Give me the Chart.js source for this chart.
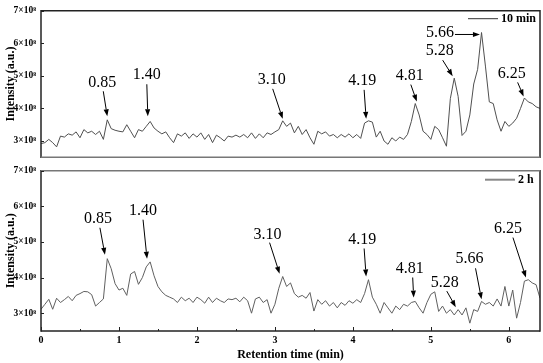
<!DOCTYPE html>
<html>
<head>
<meta charset="utf-8">
<script src="https://cdn.jsdelivr.net/npm/chart.js@4.4.1/dist/chart.umd.min.js"></script>
<style>
  html, body { margin: 0; padding: 0; background: #fff; }
  #wrap { position: relative; width: 543px; height: 363px; }
  #top { position: absolute; left: 0; top: 0; }
  #bottom { position: absolute; left: 0; top: 160px; }
</style>
</head>
<body>
<div id="wrap">
  <canvas id="top" width="543" height="168"></canvas>
  <canvas id="bottom" width="543" height="203"></canvas>
</div>
<script>
const SERIF = "'Liberation Serif', 'Times New Roman', serif";

// samples every 0.05 min, from 0 to 6.40 min, intensity in units of 1e8
const retentionStep = 0.05;

const intensity10min = [
  2.92, 2.95, 3.05, 2.95, 2.82, 3.15, 3.12, 3.22, 3.18, 3.28,
  3.10, 3.35, 3.25, 3.30, 3.20, 3.30, 3.05, 3.65, 3.38, 3.33,
  3.30, 3.28, 3.50, 3.30, 3.10, 3.35, 3.30, 3.45, 3.60, 3.40,
  3.30, 3.22, 3.28, 3.10, 2.95, 3.22, 3.15, 3.25, 3.08, 3.22,
  3.12, 3.25, 3.05, 3.20, 2.95, 3.18, 3.10, 3.00, 3.15, 3.12,
  3.18, 3.12, 3.20, 3.10, 3.25, 3.08, 3.22, 3.10, 3.25, 3.20,
  3.28, 3.35, 3.62, 3.45, 3.55, 3.25, 3.45, 3.20, 3.35, 3.10,
  2.90, 3.30, 3.22, 3.28, 3.15, 3.20, 3.10, 3.20, 3.12, 3.22,
  3.10, 3.20, 3.08, 3.55, 3.62, 3.58, 3.12, 3.30, 3.00, 2.90,
  3.10, 3.00, 3.12, 3.05, 3.20, 3.60, 4.15, 3.80, 3.30, 3.20,
  3.05, 3.45, 3.35, 3.10, 2.84, 4.30, 4.93, 4.37, 3.17, 3.30,
  3.80, 4.75, 5.20, 6.33, 5.30, 4.20, 4.15, 3.65, 3.30, 3.60,
  3.45, 3.55, 3.70, 4.00, 4.32, 4.20, 4.15, 4.05, 4.00
];

const intensity2h = [
  3.11, 3.25, 3.39, 3.11, 3.42, 3.30, 3.38, 3.47, 3.35, 3.50,
  3.55, 3.61, 3.60, 3.52, 3.20, 3.30, 3.40, 4.53, 4.25, 3.83,
  3.65, 3.70, 3.50, 4.10, 4.17, 3.81, 4.00, 4.30, 4.44, 4.05,
  3.75, 3.60, 3.50, 3.45, 3.40, 3.30, 3.45, 3.35, 3.42, 3.30,
  3.45, 3.38, 3.28, 3.45, 3.30, 3.42, 3.35, 3.30, 3.40, 3.38,
  3.42, 3.32, 3.45, 3.35, 3.00, 3.40, 3.45, 3.30, 3.38, 3.00,
  3.25, 3.70, 4.03, 3.75, 3.85, 3.55, 3.45, 3.50, 3.42, 3.58,
  3.06, 3.38, 3.25, 3.35, 3.20, 3.30, 3.15, 3.30, 3.22, 3.35,
  3.28, 3.38, 3.30, 3.55, 3.94, 3.45, 3.25, 3.00, 3.30, 3.15,
  3.00, 3.20, 3.10, 3.25, 3.20, 3.30, 3.33, 3.15, 3.00, 3.30,
  3.53, 3.60, 3.05, 3.20, 3.00, 3.10, 2.95, 3.10, 2.95, 3.15,
  2.72, 3.10, 3.05, 3.33, 3.25, 3.30, 3.20, 3.40, 3.20, 3.75,
  3.20, 3.65, 2.86, 3.30, 3.90, 3.94, 3.85, 3.80, 3.42
];

const xTicks = [0, 1, 2, 3, 4, 5, 6];
const xMinorTicks = [0.5, 1.5, 2.5, 3.5, 4.5, 5.5];
const yTicks = [3, 4, 5, 6, 7];

const peakLabels = ['0.85', '1.40', '3.10', '4.19', '4.81', '5.28', '5.66', '6.25'];
// where each arrow points, in data units
const tipTime10min = [0.85, 1.37, 3.10, 4.17, 4.82, 5.28, 5.63, 6.19];
const tipValue10min = [3.76, 3.76, 3.68, 3.68, 4.21, 4.99, 6.27, 4.37];
const tipTime2h = [0.82, 1.36, 3.06, 4.17, 4.78, 5.32, 5.65, 6.22];
const tipValue2h = [4.64, 4.53, 4.11, 4.03, 3.44, 3.17, 3.39, 4.00];

// label / arrow-tail placement relative to the tip, px
const labelOffset10min = [[-5,-33],[-1,-41],[-11,-39],[-4,-38],[-7,-26],[-13,-25],[-40,-2],[-12,-23]];
const tailOffset10min = [[-4,-25],[-1,-32],[-10,-30],[-2,-29],[-6,-17],[-10,-16],[-25,0],[-6,-14]];
const labelOffset2h = [[-7,-36],[-4,-48],[-12,-39],[-4,-37],[-4,-29],[-11,-24],[-12,-40],[-18,-49]];
const tailOffset2h = [[-5,-27],[-4,-39],[-10,-31],[-2,-28],[-1,-20],[-9,-16],[-6,-31],[-13,-40]];

function seg(ctx, x1, y1, x2, y2) {
  ctx.beginPath();
  ctx.moveTo(x1, y1);
  ctx.lineTo(x2, y2);
  ctx.stroke();
}

function arrow(ctx, x1, y1, x2, y2) {
  const ang = Math.atan2(y2 - y1, x2 - x1);
  const len = 7, half = 2.6;
  const bx = x2 - len * Math.cos(ang), by = y2 - len * Math.sin(ang);
  seg(ctx, x1, y1, bx, by);
  ctx.beginPath();
  ctx.moveTo(x2, y2);
  ctx.lineTo(bx + half * Math.sin(ang), by - half * Math.cos(ang));
  ctx.lineTo(bx - half * Math.sin(ang), by + half * Math.cos(ang));
  ctx.closePath();
  ctx.fill();
}

function makeDecor(cfg) {
  return {
    id: 'decor',
    afterDraw(chart) {
      const {ctx, chartArea: a, scales: {x, y}} = chart;
      ctx.save();

      // frame
      ctx.strokeStyle = '#222';
      ctx.lineWidth = 1.5;
      seg(ctx, a.left, a.top - 0.75, a.left, a.bottom + 0.75);
      seg(ctx, a.right, a.top - 0.75, a.right, a.bottom + 0.75);
      ctx.strokeStyle = cfg.topEdge;
      seg(ctx, a.left, a.top, a.right, a.top);
      ctx.strokeStyle = cfg.bottomEdge;
      seg(ctx, a.left, a.bottom, a.right, a.bottom);

      // inward ticks
      ctx.strokeStyle = '#222';
      ctx.lineWidth = 1;
      yTicks.forEach(v => {
        const py = Math.round(y.getPixelForValue(v)) + 0.5;
        seg(ctx, a.left, py, a.left + 3, py);
      });
      if (cfg.xTicks) {
        xTicks.forEach(v => {
          const px = Math.round(x.getPixelForValue(v)) + 0.5;
          seg(ctx, px, a.bottom, px, a.bottom - 4);
        });
        xMinorTicks.forEach(v => {
          const px = Math.round(x.getPixelForValue(v)) + 0.5;
          seg(ctx, px, a.bottom, px, a.bottom - 2);
        });
      }

      // peak annotations
      ctx.fillStyle = '#000';
      ctx.strokeStyle = '#000';
      ctx.lineWidth = 1;
      ctx.font = '16px ' + SERIF;
      ctx.textAlign = 'center';
      ctx.textBaseline = 'middle';
      peakLabels.forEach((label, i) => {
        const tx = x.getPixelForValue(cfg.tipTime[i]);
        const ty = y.getPixelForValue(cfg.tipValue[i]);
        ctx.fillText(label, tx + cfg.labelOff[i][0], ty + cfg.labelOff[i][1]);
        arrow(ctx, tx + cfg.tailOff[i][0], ty + cfg.tailOff[i][1], tx, ty);
      });

      // legend
      ctx.strokeStyle = cfg.color;
      ctx.lineWidth = cfg.legendWidth;
      const ly = a.top + cfg.legendDy;
      seg(ctx, a.right - cfg.legendFrom, ly, a.right - cfg.legendTo, ly);
      ctx.font = 'bold 12px ' + SERIF;
      ctx.textAlign = 'left';
      ctx.fillText(cfg.legend, a.right - cfg.legendTo + 3, ly);

      ctx.restore();
    }
  };
}

function yAxis() {
  return {
    type: 'linear',
    min: 2.5,
    max: 7,
    grid: { display: false, drawTicks: false },
    border: { display: false },
    afterBuildTicks: s => { s.ticks = yTicks.map(v => ({ value: v })); },
    ticks: {
      padding: 5,
      color: '#000',
      font: { family: SERIF, size: 9.5, weight: 'bold' },
      callback: v => v + '×10⁸'
    },
    title: {
      display: true,
      text: 'Intensity (a.u.)',
      color: '#000',
      font: { family: SERIF, size: 12, weight: 'bold' },
      padding: { top: 4, bottom: 0 }
    },
    afterFit: s => { s.width = 41; }
  };
}

function xAxis(show) {
  const axis = {
    type: 'linear',
    display: show,
    min: 0,
    max: 6.4,
    grid: { display: false, drawTicks: false },
    border: { display: false },
    afterBuildTicks: s => { s.ticks = xTicks.map(v => ({ value: v })); },
    ticks: {
      padding: 3,
      maxRotation: 0,
      color: '#000',
      font: { family: SERIF, size: 10, weight: 'bold' }
    },
    title: {
      display: show,
      text: 'Retention time (min)',
      color: '#000',
      font: { family: SERIF, size: 12, weight: 'bold' },
      padding: { top: 0, bottom: 1 }
    }
  };
  if (show) axis.afterFit = s => { s.height = 32; };
  return axis;
}

function makeChart(canvasId, values, color, showX, decor) {
  return new Chart(document.getElementById(canvasId), {
    type: 'line',
    data: {
      datasets: [{
        data: values.map((v, i) => ({ x: +(i * retentionStep).toFixed(2), y: v })),
        borderColor: color,
        borderWidth: 1,
        pointRadius: 0,
        tension: 0,
        fill: false
      }]
    },
    options: {
      responsive: false,
      animation: false,
      devicePixelRatio: 1,
      layout: {
        padding: showX ? { top: 8, right: 3, left: 0, bottom: 0 } : { top: 7, right: 3, left: 0, bottom: 1 }
      },
      plugins: { legend: { display: false }, tooltip: { enabled: false } },
      scales: { x: xAxis(showX), y: yAxis() }
    },
    plugins: [decor]
  });
}

makeChart('top', intensity10min, '#505050', false, makeDecor({
  topEdge: '#222', bottomEdge: '#777', xTicks: false,
  tipTime: tipTime10min, tipValue: tipValue10min,
  labelOff: labelOffset10min, tailOff: tailOffset10min,
  color: '#333', legendWidth: 1, legendDy: 8, legendFrom: 72, legendTo: 42, legend: '10 min'
}));

makeChart('bottom', intensity2h, '#606060', true, makeDecor({
  topEdge: '#777', bottomEdge: '#222', xTicks: true,
  tipTime: tipTime2h, tipValue: tipValue2h,
  labelOff: labelOffset2h, tailOff: tailOffset2h,
  color: '#888', legendWidth: 2, legendDy: 9, legendFrom: 55, legendTo: 25, legend: '2 h'
}));
</script>
</body>
</html>
